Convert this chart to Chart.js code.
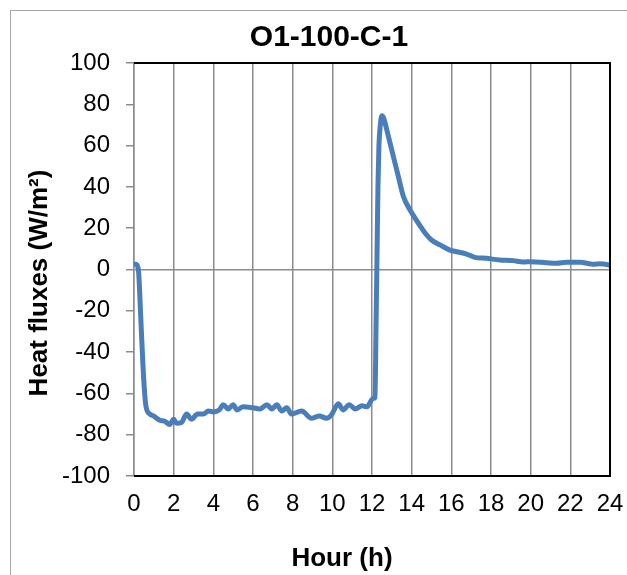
<!DOCTYPE html>
<html>
<head>
<meta charset="utf-8">
<script src="https://cdn.jsdelivr.net/npm/chart.js@4.4.0/dist/chart.umd.min.js"></script>
<style>
  html, body { margin: 0; padding: 0; background: #fff; overflow: hidden; }
  #wrap { position: relative; width: 627px; height: 575px; }
  #frame { position: absolute; left: 10px; top: 10px; width: 700px; height: 700px;
           border-left: 1px solid #a6a6a6; border-top: 1px solid #a6a6a6; }
  canvas { position: absolute; left: 0; top: 0; }
</style>
</head>
<body>
<div id="wrap">
  <div id="frame"></div>
  <canvas id="chart" width="627" height="575"></canvas>
</div>
<script>
// 資料：時間 (h) 與熱通量 (W/m²)
const hours = [
  0, 0.1, 0.22, 0.34, 0.47, 0.6, 0.8, 1.0, 1.3, 1.55, 1.8, 2.0, 2.15, 2.4, 2.65, 2.9,
  3.2, 3.5, 3.75, 4.0, 4.3, 4.5, 4.75, 5.0, 5.2, 5.5, 6.0, 6.35, 6.7, 6.95, 7.2, 7.45,
  7.7, 7.95, 8.45, 8.95, 9.35, 9.7, 9.95, 10.3, 10.55, 10.85, 11.15, 11.5, 11.75, 12.05,
  12.15, 12.2, 12.25, 12.3, 12.35, 12.42, 12.5, 12.58, 12.83, 13.08, 13.33, 13.58, 13.92,
  14.34, 14.76, 15.0, 15.43, 15.93, 16.26, 16.77, 17.18, 17.77, 18.44, 19.12, 19.62,
  20.0, 20.8, 21.3, 21.8, 22.5, 23.15, 23.5, 23.9, 24
];
const heatFlux = [
  2.5, 2.5, 0, -23, -50, -66, -70, -71, -73, -73.5, -75, -72.5, -74.5, -74, -70, -72.5,
  -70, -70, -68.5, -69, -68, -65.5, -67.5, -65.5, -68, -66.5, -67, -67.5, -65.5, -67.5, -65.5, -68.5,
  -67, -70, -68.5, -72, -71, -72, -70.5, -65, -68, -65.5, -67.5, -66, -66.5, -62.5,
  -62, -30, 5, 40, 60, 70, 74.5, 73.5, 64.3, 54.6, 45, 35.5, 28.8,
  22.4, 16.7, 14.3, 11.9, 9.4, 8.6, 7.5, 5.9, 5.4, 4.6, 4.3, 3.6,
  3.8, 3.3, 3.0, 3.5, 3.5, 2.6, 2.8, 2.3, 2
];
const xTicks = { min: 0, max: 24, step: 2 };
const yTicks = { min: -100, max: 100, step: 20 };

const chartTitle = "O1-100-C-1";
const xTitle = "Hour (h)";
const yTitle = "Heat fluxes (W/m²)";

const gridGray = "#8c8c8c";

// 標題、軸標題與黑色外框
const decorPlugin = {
  id: "decorPlugin",
  afterDraw: (chart) => {
    const ctx = chart.ctx;
    const { left, right, top, bottom } = chart.chartArea;
    ctx.save();
    // 上、右、下黑色框線
    ctx.strokeStyle = "#000";
    ctx.lineWidth = 2;
    ctx.beginPath();
    ctx.moveTo(left, top);
    ctx.lineTo(right, top);
    ctx.lineTo(right, bottom);
    ctx.lineTo(left, bottom);
    ctx.stroke();

    ctx.fillStyle = "#000";
    ctx.textAlign = "center";
    ctx.textBaseline = "alphabetic";
    ctx.font = "bold 30px 'Liberation Sans', Arial, sans-serif";
    ctx.fillText(chartTitle, 329, 46);

    ctx.font = "bold 26px 'Liberation Sans', Arial, sans-serif";
    ctx.fillText(xTitle, 342, 566);

    ctx.translate(47, 283);
    ctx.rotate(-Math.PI / 2);
    ctx.fillText(yTitle, 0, 0);
    ctx.restore();
  },
};

const points = hours.map((h, i) => ({ x: h, y: heatFlux[i] }));

new Chart(document.getElementById("chart"), {
  type: "line",
  data: {
    datasets: [
      {
        data: points,
        borderColor: "#4A7EBB",
        borderWidth: 5,
        pointRadius: 0,
        fill: false,
        cubicInterpolationMode: "monotone",
        borderJoinStyle: "round",
        borderCapStyle: "round",
      },
    ],
  },
  options: {
    responsive: false,
    animation: false,
    devicePixelRatio: 1,
    layout: { padding: { left: 0, top: 63, right: 17, bottom: 0 } },
    plugins: {
      legend: { display: false },
      tooltip: { enabled: false },
      title: { display: false },
    },
    scales: {
      x: {
        type: "linear",
        min: xTicks.min,
        max: xTicks.max,
        ticks: {
          stepSize: xTicks.step,
          color: "#000",
          padding: 14,
          maxRotation: 0,
          font: { family: "'Liberation Sans', Arial, sans-serif", size: 24 },
        },
        grid: {
          color: gridGray,
          lineWidth: 1.5,
          drawTicks: false,
          tickLength: 0,
        },
        border: { display: false },
        afterFit: (axis) => {
          axis.height = 99;
          axis.paddingLeft = 0;
          axis.paddingRight = 0;
        },
      },
      y: {
        min: yTicks.min,
        max: yTicks.max,
        ticks: {
          stepSize: yTicks.step,
          color: "#000",
          padding: 16,
          font: { family: "'Liberation Sans', Arial, sans-serif", size: 24 },
        },
        grid: {
          color: (c) => (c.tick && c.tick.value === 0 ? gridGray : "rgba(0,0,0,0)"),
          tickColor: gridGray,
          lineWidth: 1.5,
          tickLength: 8,
        },
        border: { display: true, color: gridGray, width: 1.5 },
        afterFit: (axis) => {
          axis.width = 134;
          axis.paddingTop = 0;
          axis.paddingBottom = 0;
        },
      },
    },
  },
  plugins: [decorPlugin],
});
</script>
</body>
</html>
